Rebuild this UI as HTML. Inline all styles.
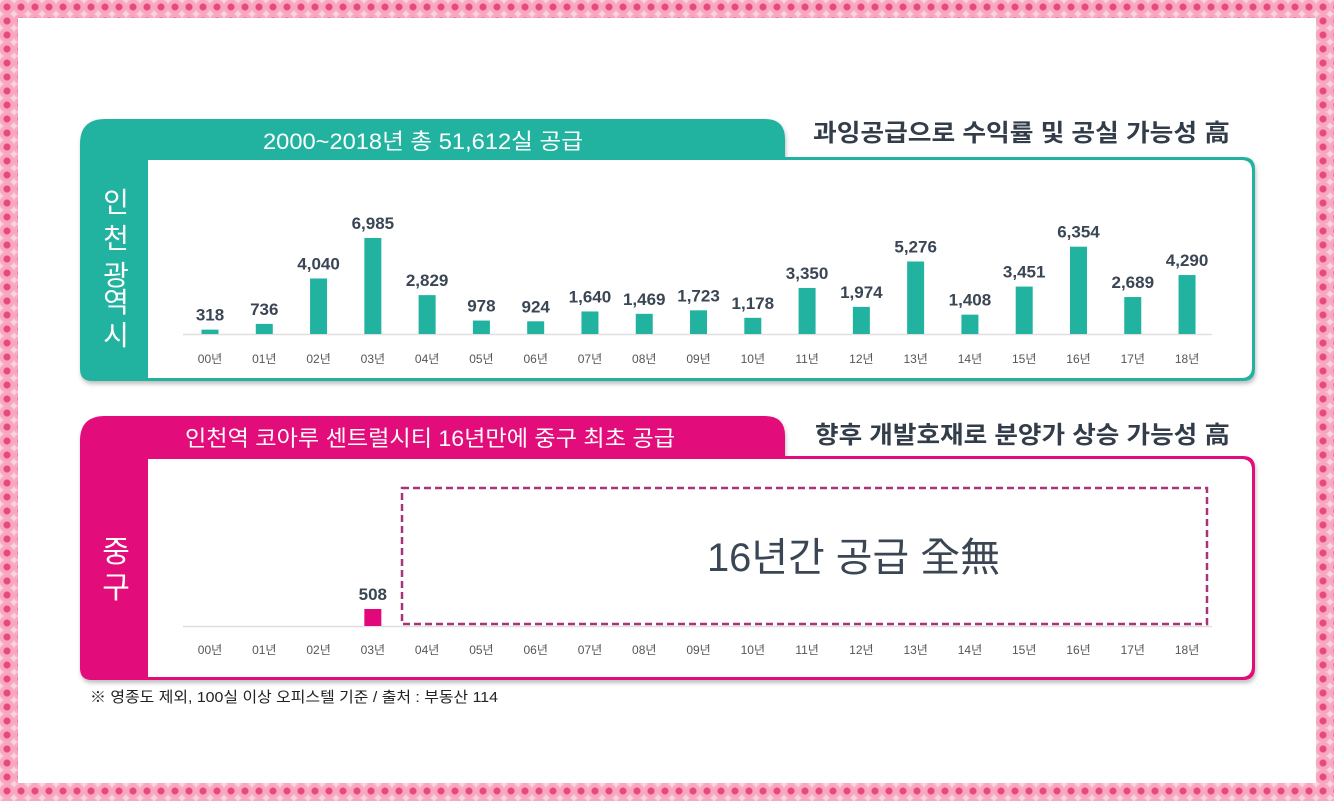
<!DOCTYPE html>
<html><head><meta charset="utf-8">
<style>
html,body{margin:0;padding:0}
body{width:1334px;height:801px;position:relative;overflow:hidden;background:#fff;font-family:"Liberation Sans","Noto Sans CJK KR",sans-serif}
.frame{position:absolute;left:0;top:0;width:1334px;height:801px;box-sizing:border-box;
background:radial-gradient(circle at 50% 50%,#e8487a 0 3px,#f7a7c0 4px 7px,#fbd3de 8px) 0 0/14px 14px;}
.inner{position:absolute;left:18px;top:18px;width:1298px;height:765px;background:#fff}
</style></head><body>
<div class="frame"></div>
<div class="inner"></div>
<svg width="1334" height="801" style="position:absolute;left:0;top:0">
 <defs>
  <filter id="sh"><feDropShadow dx="1" dy="3" stdDeviation="2" flood-opacity="0.25"/></filter>
 </defs>
 <g filter="url(#sh)">
  <path d="M80,144 Q80,119 105,119 L765,119 Q785,119 785,139 L785,157 L1243,157 Q1255,157 1255,169 L1255,369 Q1255,381 1243,381 L92,381 Q80,381 80,369 Z" fill="#22b3a0"/>
  <path d="M148,160 L1241,160 Q1252,160 1252,171 L1252,367 Q1252,378 1241,378 L148,378 Z" fill="#fff"/>
 </g>
 <text x="263" y="149" textLength="320" lengthAdjust="spacingAndGlyphs" fill="#fff" font-size="22">2000~2018년 총 51,612실 공급</text>
 <text x="813" y="141" textLength="417" lengthAdjust="spacingAndGlyphs" fill="#333d4a" font-size="24" font-weight="bold">과잉공급으로 수익률 및 공실 가능성 高</text>
 <g fill="#fff" font-size="28" text-anchor="middle">
  <text x="116" y="212">인</text><text x="116" y="248">천</text><text x="116" y="285">광</text><text x="116" y="312">역</text><text x="116" y="345">시</text>
 </g>
 <g id="topChart"></g>
 <g filter="url(#sh)">
  <path d="M80,441 Q80,416 105,416 L765,416 Q785,416 785,436 L785,456 L1243,456 Q1255,456 1255,468 L1255,668 Q1255,680 1243,680 L92,680 Q80,680 80,668 Z" fill="#e2077a"/>
  <path d="M148,459 L1241,459 Q1252,459 1252,470 L1252,666 Q1252,677 1241,677 L148,677 Z" fill="#fff"/>
 </g>
 <text x="185" y="446" textLength="490" lengthAdjust="spacingAndGlyphs" fill="#fff" font-size="22">인천역 코아루 센트럴시티 16년만에 중구 최초 공급</text>
 <text x="815" y="443" textLength="415" lengthAdjust="spacingAndGlyphs" fill="#333d4a" font-size="24" font-weight="bold">향후 개발호재로 분양가 상승 가능성 高</text>
 <g fill="#fff" font-size="30" text-anchor="middle">
  <text x="116" y="562">중</text><text x="116" y="598">구</text>
 </g>
 <rect x="402" y="488" width="805" height="136" fill="none" stroke="#a8337a" stroke-width="2.5" stroke-dasharray="7,4"/>
 <text x="707" y="571" textLength="293" lengthAdjust="spacingAndGlyphs" fill="#3a4654" font-size="40">16년간 공급 全無</text>
 <g id="botChart"></g>
 <text x="90" y="702" textLength="408" lengthAdjust="spacingAndGlyphs" fill="#222" font-size="15">※ 영종도 제외, 100실 이상 오피스텔 기준 / 출처 : 부동산 114</text>
</svg>
<script>
const categories = ["00년","01년","02년","03년","04년","05년","06년","07년","08년","09년","10년","11년","12년","13년","14년","15년","16년","17년","18년"];
const incheonValues = [318,736,4040,6985,2829,978,924,1640,1469,1723,1178,3350,1974,5276,1408,3451,6354,2689,4290];
const jungguValues = [0,0,0,508,0,0,0,0,0,0,0,0,0,0,0,0,0,0,0];
const NS="http://www.w3.org/2000/svg";
function xPos(i){return 210+i*54.28;}
function mk(tag,attrs){const e=document.createElementNS(NS,tag);for(const k in attrs)e.setAttribute(k,attrs[k]);return e;}
function draw(gid,vals,base,scale,color,labelY){
 const g=document.getElementById(gid);
 const ax=mk("line",{x1:183,x2:1212,y1:base+0.5,y2:base+0.5,stroke:"#e0e0e0","stroke-width":1.5});
 
 
 g.appendChild(ax);
 vals.forEach((v,i)=>{
  const x=xPos(i);
  const t=mk("text",{x:x,y:labelY,"font-size":12,fill:"#555","text-anchor":"middle"});
  t.textContent=categories[i];
  
  
  g.appendChild(t);
  if(v<=0)return;
  const h=v*scale;
  const r=mk("rect",{x:x-8.5,y:base-h,width:17,height:h,fill:color});
  
  
  g.appendChild(r);
  const l=mk("text",{x:x,y:base-h-9,"font-size":17,"font-weight":"bold",fill:"#3a4654","text-anchor":"middle"});
  l.textContent=v.toLocaleString("en-US");
  
  
  g.appendChild(l);
 });
}
draw("topChart",incheonValues,334,96/6985,"#22b3a0",363);
draw("botChart",jungguValues,626,17/508,"#e2077a",654);
</script>
</body></html>
